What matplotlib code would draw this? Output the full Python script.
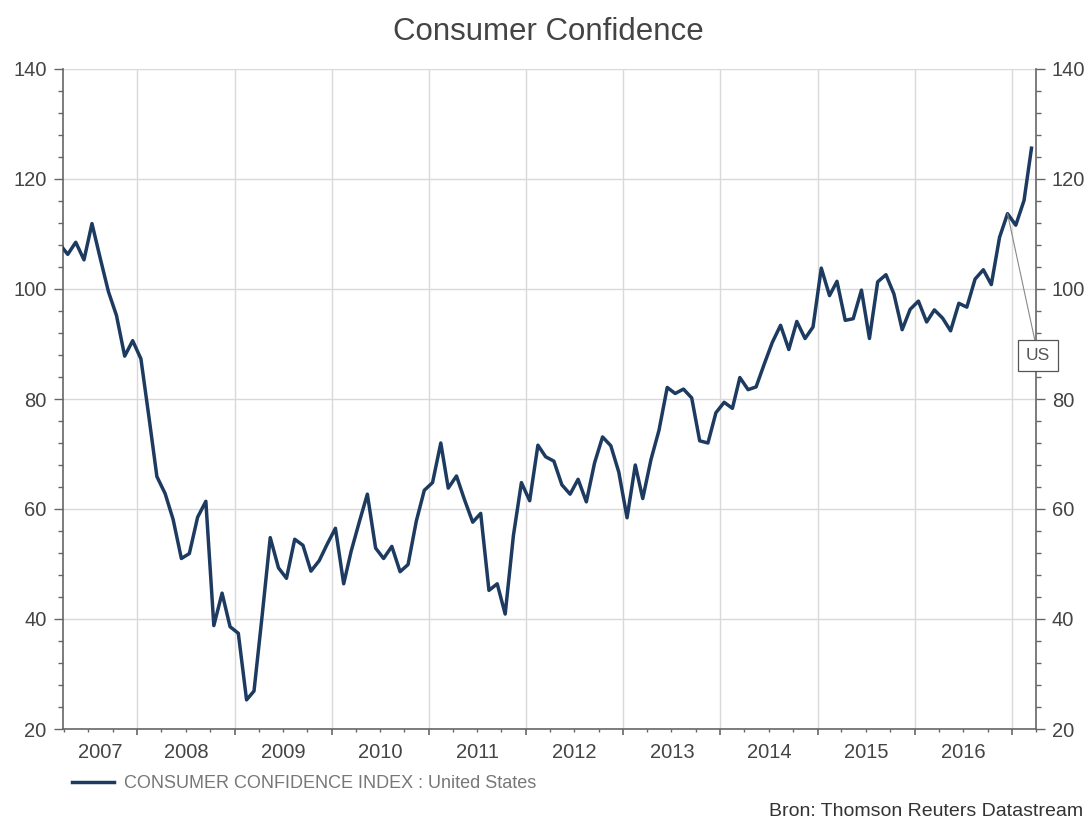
import numpy as np
import pandas as pd
import matplotlib as mpl
mpl.use('Agg')
import matplotlib.pyplot as plt
import matplotlib.dates as mdates

mpl.rcParams['font.family'] = ['Liberation Sans', 'DejaVu Sans']

# Conference Board consumer confidence, monthly, Mar 2007 .. Mar 2017
cci_2007 = [108.2, 106.3, 108.5, 105.3, 111.9, 105.6, 99.5, 95.2, 87.8, 90.6]
cci_2008 = [87.3, 76.4, 65.9, 62.8, 58.1, 51.0, 51.9, 58.5, 61.4, 38.8, 44.7, 38.6]
cci_2009 = [37.4, 25.3, 26.9, 40.8, 54.8, 49.3, 47.4, 54.5, 53.4, 48.7, 50.6, 53.6]
cci_2010 = [56.5, 46.4, 52.3, 57.7, 62.7, 52.9, 51.0, 53.2, 48.6, 49.9, 57.8, 63.4]
cci_2011 = [64.8, 72.0, 63.8, 66.0, 61.7, 57.6, 59.2, 45.2, 46.4, 40.9, 55.2, 64.8]
cci_2012 = [61.5, 71.6, 69.5, 68.7, 64.4, 62.7, 65.4, 61.3, 68.4, 73.1, 71.5, 66.7]
cci_2013 = [58.4, 68.0, 61.9, 69.0, 74.3, 82.1, 81.0, 81.8, 80.2, 72.4, 72.0, 77.5]
cci_2014 = [79.4, 78.3, 83.9, 81.7, 82.2, 86.4, 90.3, 93.4, 89.0, 94.1, 91.0, 93.1]
cci_2015 = [103.8, 98.8, 101.4, 94.3, 94.6, 99.8, 91.0, 101.3, 102.6, 99.1, 92.6, 96.3]
cci_2016 = [97.8, 94.0, 96.2, 94.7, 92.4, 97.4, 96.7, 101.8, 103.5, 100.8, 109.4, 113.7]
cci_2017 = [111.6, 116.1, 125.6]

year_labels = [str(y) for y in range(2007, 2017)]
series_label = "CONSUMER CONFIDENCE INDEX : United States"

values = (cci_2007 + cci_2008 + cci_2009 + cci_2010 + cci_2011 + cci_2012
          + cci_2013 + cci_2014 + cci_2015 + cci_2016 + cci_2017)
dates = pd.date_range("2007-03-01", periods=len(values), freq="MS") + pd.Timedelta(days=14)

LINE = '#1d3b60'
GREY = '#444444'

fig = plt.figure(figsize=(10.9, 8.21), dpi=100)
ax = fig.add_axes([62.7 / 1090, 1 - 729 / 821, (1036 - 62.7) / 1090, (729 - 69) / 821])

ax.plot(dates, values, color=LINE, lw=2.5, solid_joinstyle='round', label=series_label, zorder=3)

x0, x1 = pd.Timestamp("2007-03-27"), pd.Timestamp("2017-04-01")
ax.set_xlim(x0, x1)
ax.set_ylim(20, 140)

ax.xaxis.set_major_locator(mdates.YearLocator())
ax.xaxis.set_minor_locator(mdates.MonthLocator(bymonth=[1, 4, 7, 10]))
ax.xaxis.set_major_formatter(plt.NullFormatter())
ax.set_yticks(np.arange(20, 141, 20))
ax.set_yticks(np.arange(20, 141, 4), minor=True)

ax.grid(True, which='major', color='#d9d9d9', lw=1, zorder=0)
ax.set_axisbelow(True)

for side in ['left', 'right', 'bottom']:
    ax.spines[side].set_color('#666666')
    ax.spines[side].set_linewidth(1.2)
ax.spines['top'].set_visible(False)

ax.tick_params(axis='y', which='both', left=True, right=True, labelleft=True, labelright=True,
               direction='out', colors='#666666', labelcolor=GREY, labelsize=14.5, pad=5)
ax.tick_params(axis='y', which='major', length=6.5, width=1)
ax.tick_params(axis='y', which='minor', length=3.5, width=1)
ax.tick_params(axis='x', which='major', length=4.5, width=1.2, colors='#666666')
ax.tick_params(axis='x', which='minor', length=2.5, width=1, colors='#666666')

# year names centred on the visible part of each year
for lab in year_labels:
    a = max(pd.Timestamp(lab + "-01-01"), x0)
    b = min(pd.Timestamp(str(int(lab) + 1) + "-01-01"), x1)
    mid = mdates.date2num(a) + (mdates.date2num(b) - mdates.date2num(a)) / 2
    ax.text(mid, -0.036, lab, transform=ax.get_xaxis_transform(), ha='center', va='center',
            fontsize=14.5, color=GREY)

ax.annotate("US", xy=(dates[-4], values[-4]), xytext=(22, -102), textcoords='offset points',
            ha='center', va='center', fontsize=12.5, color='#555555',
            bbox=dict(boxstyle='square,pad=0.45', fc='white', ec='#555555', lw=0.9),
            arrowprops=dict(arrowstyle='-', color='#888888', lw=0.8, shrinkA=0, shrinkB=0),
            annotation_clip=False, zorder=5)

fig.legend(loc='upper left', bbox_to_anchor=(72 / 1090, 1 - 775 / 821), frameon=False,
           fontsize=13, handlelength=2.3, handletextpad=0.6, borderpad=0, borderaxespad=0,
           labelcolor='#777777')

fig.text(548 / 1090, 1 - 31.7 / 821, "Consumer Confidence", ha='center', va='center',
         fontsize=22.5, color=GREY)
fig.text(1083 / 1090, 1 - 811 / 821, "Bron: Thomson Reuters Datastream", ha='right', va='center',
         fontsize=14, color='#333333')

plt.savefig("out.png", dpi=100)
plt.close(fig)
